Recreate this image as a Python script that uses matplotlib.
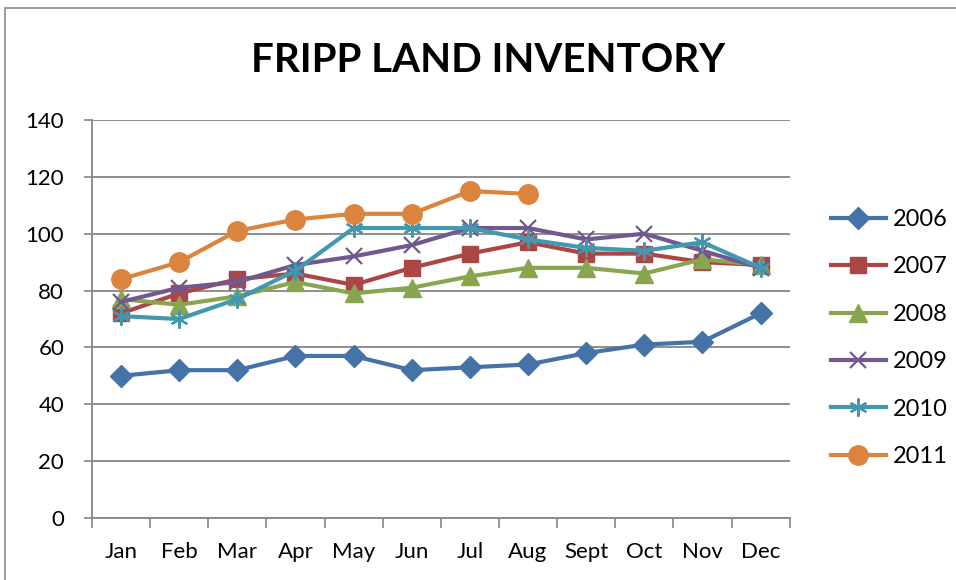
import numpy as np
import matplotlib.pyplot as plt
from matplotlib.patches import Rectangle

# data
months = ["Jan", "Feb", "Mar", "Apr", "May", "Jun", "Jul", "Aug", "Sept", "Oct", "Nov", "Dec"]
y2006 = [50, 52, 52, 57, 57, 52, 53, 54, 58, 61, 62, 72]
y2007 = [72, 79, 84, 86, 82, 88, 93, 97, 93, 93, 90, 89]
y2008 = [77, 75, 78, 83, 79, 81, 85, 88, 88, 86, 91, 89]
y2009 = [76, 81, 83, 89, 92, 96, 102, 102, 98, 100, 94, 88]
y2010 = [71, 70, 77, 87, 102, 102, 102, 98, 95, 94, 97, 88]
y2011 = [84, 90, 101, 105, 107, 107, 115, 114]

series = [
    ("2006", y2006, "#4572A7", "D", 11),
    ("2007", y2007, "#AA4643", "s", 12),
    ("2008", y2008, "#89A54E", "^", 13),
    ("2009", y2009, "#71588F", "x", 12),
    ("2010", y2010, "#4198AF", "*", 13),
    ("2011", y2011, "#DB843D", "o", 14),
]

plt.rcParams["font.family"] = ["Lato", "DejaVu Sans"]

fig = plt.figure(figsize=(9.56, 5.8), dpi=100)
ax = fig.add_axes([0.0962, 0.1069, 0.7298, 0.6862])

# outer chart border
fig.patches.append(Rectangle((5 / 956, -0.1), 1.2, 1 - 8 / 580 + 0.1,
                             transform=fig.transFigure, fill=False,
                             edgecolor="#8c8c8c", linewidth=1.2))

for name, vals, col, mk, ms in series:
    x = np.arange(len(vals))
    if mk == "*":
        # asterisk style marker like Excel's
        ax.plot(x, vals, color=col, lw=3, label=name, marker=(6, 2, 0),
                markersize=ms, markeredgewidth=1.6, markeredgecolor=col)
    elif mk == "x":
        ax.plot(x, vals, color=col, lw=3, label=name, marker="x",
                markersize=ms, markeredgewidth=1.6)
    else:
        ax.plot(x, vals, color=col, lw=3, label=name, marker=mk,
                markersize=ms, markeredgecolor=col)

ax.set_xlim(-0.5, 11.5)
ax.set_ylim(0, 140)
ax.set_yticks(range(0, 141, 20))
ax.set_xticks(range(12))
ax.set_xticklabels(months)
ax.set_xticks(np.arange(-0.5, 12, 1), minor=True)
ax.tick_params(axis="x", which="major", length=0, labelsize=16, pad=17)
ax.tick_params(axis="x", which="minor", length=7, color="#868686", width=1.2, direction="out")
ax.tick_params(axis="y", length=6, color="#868686", width=1.2, labelsize=16, pad=14)

ax.yaxis.grid(True, color="#868686", lw=1.3)
ax.set_axisbelow(True)
for s in ["top", "right"]:
    ax.spines[s].set_visible(False)
for s in ["left", "bottom"]:
    ax.spines[s].set_color("#868686")
    ax.spines[s].set_linewidth(1.3)

fig.text(488 / 956, 1 - 60 / 580, "FRIPP LAND INVENTORY", ha="center", va="center",
         fontsize=29, fontweight="bold")

fig.legend(loc="center left", bbox_to_anchor=(810 / 956, 1 - 338 / 580), frameon=False,
           fontsize=17, handlelength=2.3, labelspacing=1.12, handletextpad=0.3)

fig.savefig("out.png", dpi=100)
